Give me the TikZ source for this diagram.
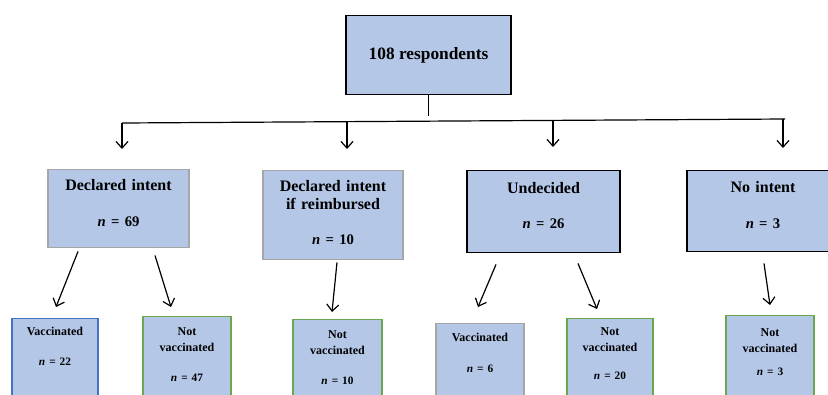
\documentclass[tikz,border=0pt]{standalone}
\usepackage{fontspec}
\setmainfont{Liberation Serif}
\usetikzlibrary{arrows.meta,calc}
\definecolor{cellblue}{HTML}{B4C7E7}
\definecolor{edgegray}{HTML}{A6A6A6}
\definecolor{edgeblue}{HTML}{4472C4}
\definecolor{edgegreen}{HTML}{6AA84F}
\tikzset{
  cell/.style={draw, fill=cellblue, line width=1.1pt, inner sep=0pt, anchor=north, align=center},
  group/.style={cell, font=\fontsize{12pt}{13.5pt}\selectfont\bfseries},
  leaf/.style={cell, font=\fontsize{9pt}{12pt}\selectfont\bfseries, text depth=70pt},
  arr/.style={-{Straight Barb[length=5pt,width=9pt]}, line width=0.9pt},
}
\newcommand{\nbig}[1]{{\fontsize{11pt}{13.5pt}\selectfont\textit{n} = #1}}
\newcommand{\nsmall}[1]{{\fontsize{8.5pt}{12pt}\selectfont\textit{n} = #1}}
\begin{document}
\begin{tikzpicture}[x=0.75pt, y=-0.75pt]
  \useasboundingbox (0,0) rectangle (828,394);
  \clip (0,0) rectangle (828,394);
  % top box
  \node[cell, minimum width=123.75pt, minimum height=59.25pt, font=\fontsize{13pt}{15pt}\selectfont\bfseries] (root) at (428.5,14.7) {108 respondents};
  % intent groups
  \node[group, draw=edgegray, text width=105.75pt, text height=15.75pt, text depth=42.75pt] (intent) at (118.5,169) {Declared intent\\[13.5pt]\nbig{69}};
  \node[group, draw=edgegray, text width=105pt, text height=15.75pt, text depth=51pt] (reimb) at (333,170) {Declared intent\\if reimbursed\\[12.75pt]\nbig{10}};
  \node[group, text width=114.75pt, text height=17.25pt, text depth=44.25pt] (undec) at (543.5,170) {Undecided\\[12.75pt]\nbig{26}};
  \node[group, text width=114pt, text height=16.5pt, text depth=44.25pt] (nointent) at (763,170) {No intent\\[13.5pt]\nbig{3}};
  % outcomes
  \node[leaf, draw=edgeblue, text width=64.5pt, text height=12.75pt] (vac1) at (55,318) {Vaccinated\\[10.5pt]\nsmall{22}};
  \node[leaf, draw=edgegreen, text width=66pt, text height=14.25pt] (novac1) at (187,316) {Not\\vaccinated\\[10.5pt]\nsmall{47}};
  \node[leaf, draw=edgegreen, text width=66.75pt, text height=14.25pt] (novac2) at (337.5,319) {Not\\vaccinated\\[10.5pt]\nsmall{10}};
  \node[leaf, draw=edgegray, text width=66pt, text height=13.5pt] (vac2) at (480,323) {Vaccinated\\[11.25pt]\nsmall{6}};
  \node[leaf, draw=edgegreen, text width=64.5pt, text height=12.75pt] (novac3) at (610,318) {Not\\vaccinated\\[9pt]\nsmall{20}};
  \node[leaf, draw=edgegreen, text width=66pt, text height=15.75pt] (novac4) at (770,315) {Not\\vaccinated\\[5.25pt]\nsmall{3}};
  % bus
  \coordinate (stem) at (428.5,116);
  \coordinate (b1) at (122,123);
  \coordinate (b2) at (347,122);
  \coordinate (b3) at (553,120);
  \coordinate (b4) at (783,119);
  \coordinate (bend) at (785,119);
  \coordinate (t1) at (122,149);
  \coordinate (t2) at (347,149);
  \coordinate (t3) at (553,147);
  \coordinate (t4) at (783,148);
  \draw[line width=0.9pt] (root) -- (stem);
  \draw[line width=0.9pt] (b1) -- (bend);
  \foreach \i in {1,...,4}
    \draw[arr] (b\i) -- (t\i);
  % split arrows
  \draw[arr] ($(intent.south)+(-40.5,3)$) -- ($(vac1.north)+(1,-11)$);
  \draw[arr] ($(intent.south)+(36.5,7)$) -- ($(novac1.north)+(-16,-9)$);
  \draw[arr] ($(reimb.south)+(4,2)$) -- ($(novac2.north)+(-5.5,-7)$);
  \draw[arr] ($(undec.south)+(-47.5,11)$) -- ($(vac2.north)+(-2,-16)$);
  \draw[arr] ($(undec.south)+(34.5,10)$) -- ($(novac3.north)+(-13,-9)$);
  \draw[arr] ($(nointent.south)+(1,11)$) -- ($(novac4.north)+(0,-10)$);
\end{tikzpicture}
\end{document}
